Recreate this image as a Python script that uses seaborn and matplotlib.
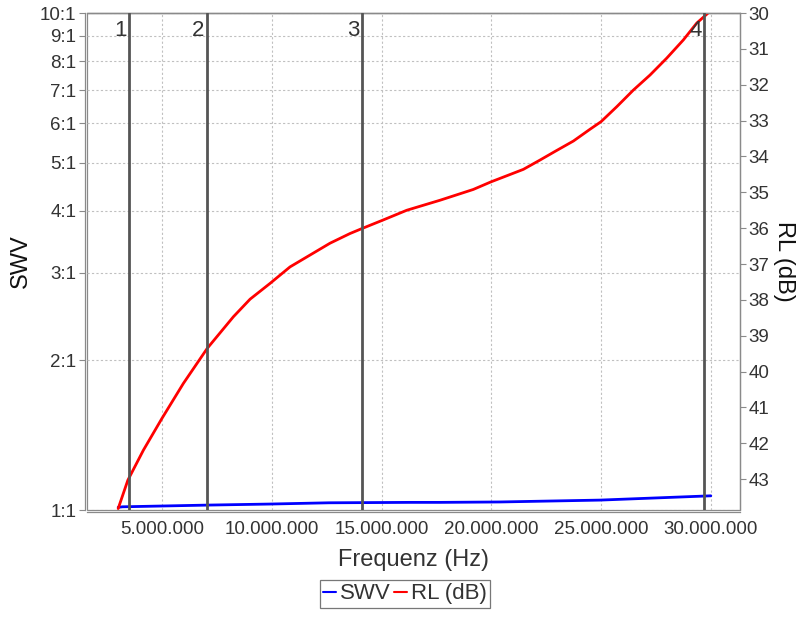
import matplotlib
matplotlib.use("Agg")
import matplotlib.pyplot as plt
import seaborn as sns
import pandas as pd
from matplotlib.ticker import NullLocator
from matplotlib.patches import Rectangle
from matplotlib.lines import Line2D
from matplotlib.transforms import blended_transform_factory

# ---- data ----
rl_freq_hz = [3.00e6, 3.44e6, 4.15e6, 4.99e6, 5.97e6, 7.06e6, 8.25e6, 9.01e6,
              9.92e6, 10.83e6, 11.74e6, 12.65e6, 13.56e6, 14.11e6, 15.08e6,
              16.15e6, 17.67e6, 19.18e6, 19.98e6, 21.46e6, 22.22e6, 22.93e6,
              23.74e6, 24.50e6, 25.00e6, 25.72e6, 26.47e6, 27.23e6, 27.99e6,
              28.75e6, 29.36e6, 29.97e6]
rl_db = [43.82, 43.03, 42.19, 41.31, 40.33, 39.35, 38.47, 37.98,
         37.54, 37.08, 36.75, 36.42, 36.15, 36.01, 35.77,
         35.50, 35.22, 34.92, 34.71, 34.36, 34.10, 33.85,
         33.57, 33.24, 33.03, 32.61, 32.15, 31.73, 31.26,
         30.75, 30.28, 29.95]

swv_freq_hz = [3.00e6, 3.2e6, 7.06e6, 9.9e6, 12.6e6, 16.3e6, 17.66e6,
               20.4e6, 24.95e6, 30.0e6]
swv = [1.0126, 1.015, 1.023, 1.028, 1.034, 1.036, 1.036,
       1.038, 1.047, 1.068]

marker_hz = [3.5e6, 7.05e6, 14.1e6, 29.7e6]
marker_labels = ["1", "2", "3", "4"]

swv_ticks = [1, 2, 3, 4, 5, 6, 7, 8, 9, 10]
swv_tick_labels = ["1:1", "2:1", "3:1", "4:1", "5:1", "6:1", "7:1", "8:1", "9:1", "10:1"]
rl_ticks = [30, 31, 32, 33, 34, 35, 36, 37, 38, 39, 40, 41, 42, 43]
x_ticks_hz = [5e6, 10e6, 15e6, 20e6, 25e6, 30e6]
x_tick_labels = ["5.000.000", "10.000.000", "15.000.000", "20.000.000",
                 "25.000.000", "30.000.000"]

# ---- style ----
sns.set_style("white")
plt.rcParams['font.family'] = ['Liberation Sans', 'DejaVu Sans']

GRAY = "#8a8a8a"
TXT = "#333333"

fig = plt.figure(figsize=(8, 6.17), dpi=100)
ax = fig.add_axes([0.10875, 0.1734, 0.81625, 0.8055])
ax2 = ax.twinx()

df_swv = pd.DataFrame({"Frequenz": swv_freq_hz, "SWV": swv})
df_rl = pd.DataFrame({"Frequenz": rl_freq_hz, "RL": rl_db})

ax.set_yscale("log")
sns.lineplot(data=df_swv, x="Frequenz", y="SWV", ax=ax, color="#0000ff",
             lw=2, legend=False, zorder=3)
sns.lineplot(data=df_rl, x="Frequenz", y="RL", ax=ax2, color="#ff0000",
             lw=2, legend=False, zorder=2)

ax.set_xlim(1.58e6, 31.33e6)
ax.set_ylim(1, 10)
ax2.set_ylim(43.86, 30)

ax.set_xticks(x_ticks_hz)
ax.set_xticklabels(x_tick_labels)
ax.set_yticks(swv_ticks)
ax.set_yticklabels(swv_tick_labels)
ax.yaxis.set_minor_locator(NullLocator())
ax2.set_yticks(rl_ticks)

ax.grid(True, color="#c0c0c0", linestyle=(0, (2, 2)), lw=0.8)
ax.set_axisbelow(True)

for a in (ax, ax2):
    a.tick_params(axis="both", colors=GRAY, labelcolor=TXT, length=4,
                  width=0.8, labelsize=13.5, pad=2)
    for s in a.spines.values():
        s.set_color(GRAY)
        s.set_linewidth(0.9)

ax.spines["left"].set_position(("outward", 1.6))
ax.spines["bottom"].set_position(("outward", 1.6))
ax2.spines["left"].set_visible(False)
ax2.spines["bottom"].set_visible(False)
ax.spines["right"].set_visible(False)
ax.add_patch(Rectangle((0, 0), 1, 1, transform=ax.transAxes, fill=False,
                       ec=GRAY, lw=0.9, clip_on=False, zorder=0.5))

# marker lines
trans = blended_transform_factory(ax2.transData, ax2.transAxes)
for m, lab in zip(marker_hz, marker_labels):
    ax2.axvline(m, color="#555555", lw=2, zorder=4)
    ax2.annotate(lab, xy=(m, 1), xycoords=trans, xytext=(-2, -5),
                 textcoords="offset points", ha="right", va="top",
                 fontsize=16, color=TXT, zorder=5)

ax.set_xlabel("Frequenz (Hz)", fontsize=17, color=TXT, labelpad=8)
ax.set_ylabel("SWV", fontsize=17, color="#111111")
ax.yaxis.set_label_coords(-0.085, 0.5)
ax2.set_ylabel("RL (dB)", fontsize=17, color="#111111", rotation=-90, va="bottom")
ax2.yaxis.set_label_coords(1.05, 0.5)

handles = [Line2D([], [], color="#0000ff", lw=1.5),
           Line2D([], [], color="#ff0000", lw=1.5)]
leg = fig.legend(handles=handles, labels=["SWV", "RL (dB)"], loc="center",
                 bbox_to_anchor=(0.506, 0.0373), ncol=2, frameon=True,
                 fancybox=False, edgecolor="#555555", handlelength=0.6,
                 handletextpad=0.15, columnspacing=0.15, fontsize=16,
                 borderpad=0.15, borderaxespad=0)
for t in leg.get_texts():
    t.set_color(TXT)
leg.get_frame().set_linewidth(0.9)

fig.savefig("out.png", dpi=100)
